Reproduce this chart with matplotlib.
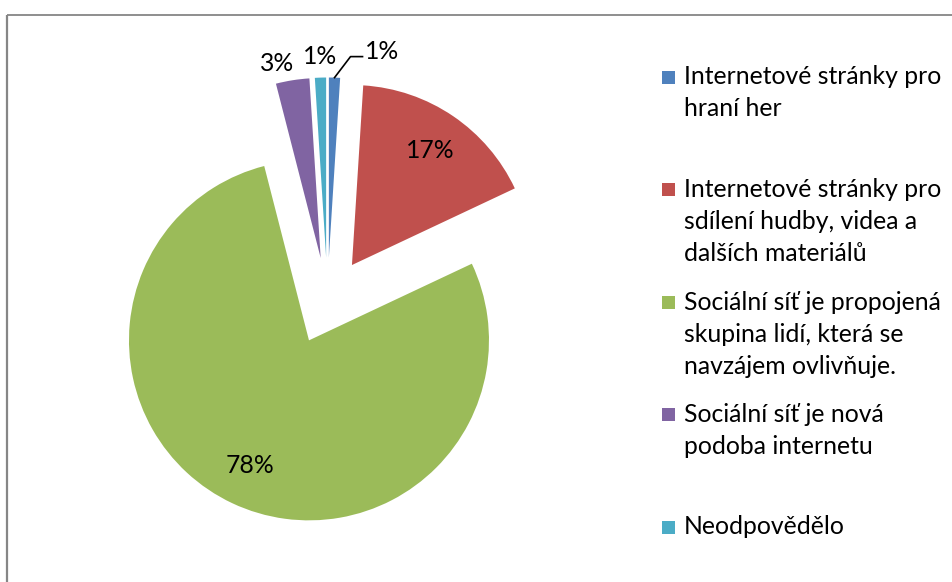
import numpy as np
import matplotlib
matplotlib.use("Agg")
import matplotlib.pyplot as plt
from matplotlib.patches import Rectangle

# =====================
# DATA
# =====================
categories = [
    "Internetové stránky pro\nhraní her",
    "Internetové stránky pro\nsdílení hudby, videa a\ndalších materiálů",
    "Sociální síť je propojená\nskupina lidí, která se\nnavzájem ovlivňuje.",
    "Sociální síť je nová\npodoba internetu",
    "Neodpovědělo",
]
shares = [1, 17, 78, 3, 1]
colors = ["#4F81BD", "#C0504D", "#9BBB59", "#8064A2", "#4BACC6"]

# =====================
# FIGURE (data units = pixels, y up)
# =====================
W, H = 953, 582
plt.rcParams["font.family"] = ["Lato", "DejaVu Sans"]
FS = 17.8

fig = plt.figure(figsize=(W / 100, H / 100), dpi=100)
ax = fig.add_axes([0, 0, 1, 1])

R = 180
cx, cy = 327.5, H - 301
# explode is in data units here (pixels)
wedges, _ = ax.pie(shares, colors=colors, center=(cx, cy), radius=R,
                   explode=[43.5] * len(shares), startangle=90,
                   counterclock=False, wedgeprops=dict(linewidth=0))

ax.set_xlim(0, W)
ax.set_ylim(0, H)
ax.set_aspect("equal")
ax.axis("off")

# percentage labels
for i, (w, s) in enumerate(zip(wedges, shares)):
    mid = np.deg2rad((w.theta1 + w.theta2) / 2)
    wx, wy = w.center
    if s >= 10:
        d = 0.77 * R
        ax.text(wx + d * np.cos(mid), wy + d * np.sin(mid), f"{s}%",
                ha="center", va="center", fontsize=FS, color="black")
    elif i == 0:
        # label pushed aside with a leader line
        p0 = (wx + R * np.cos(mid), wy + R * np.sin(mid))
        p1 = (p0[0] + 16, p0[1] + 21)
        p2 = (p1[0] + 12, p1[1])
        ax.plot([p0[0], p1[0], p2[0]], [p0[1], p1[1], p2[1]],
                color="black", lw=1.2)
        ax.text(p2[0] + 2, p2[1] + 5, f"{s}%", ha="left", va="center",
                fontsize=FS, color="black")
    else:
        d = 1.12 * R
        tx = wx + d * np.cos(mid)
        ty = wy + d * np.sin(mid)
        if i == 3:
            # nudge left so it doesn't crowd the neighbouring label
            tx -= 12
            ty -= 5
        ax.text(tx, ty, f"{s}%", ha="center", va="center",
                fontsize=FS, color="black")

# legend, entries evenly spaced like Excel does
for k, (lab, col) in enumerate(zip(categories, colors)):
    yc = H - (77 + 112.5 * k)
    ax.add_patch(Rectangle((662, yc - 6.5), 13, 13, color=col, lw=0))
    for j, line in enumerate(lab.split("\n")):
        ax.text(684, yc - 32 * j, line, ha="left", va="center",
                fontsize=FS, color="black")

# chart border (only top and left visible in the crop)
ax.plot([7, W + 5], [H - 14.5, H - 14.5], color="#868686", lw=1.3,
        solid_capstyle="butt")
ax.plot([7, 7], [H - 14.5, -5], color="#868686", lw=1.6,
        solid_capstyle="butt")

fig.savefig("out.png", dpi=100)
